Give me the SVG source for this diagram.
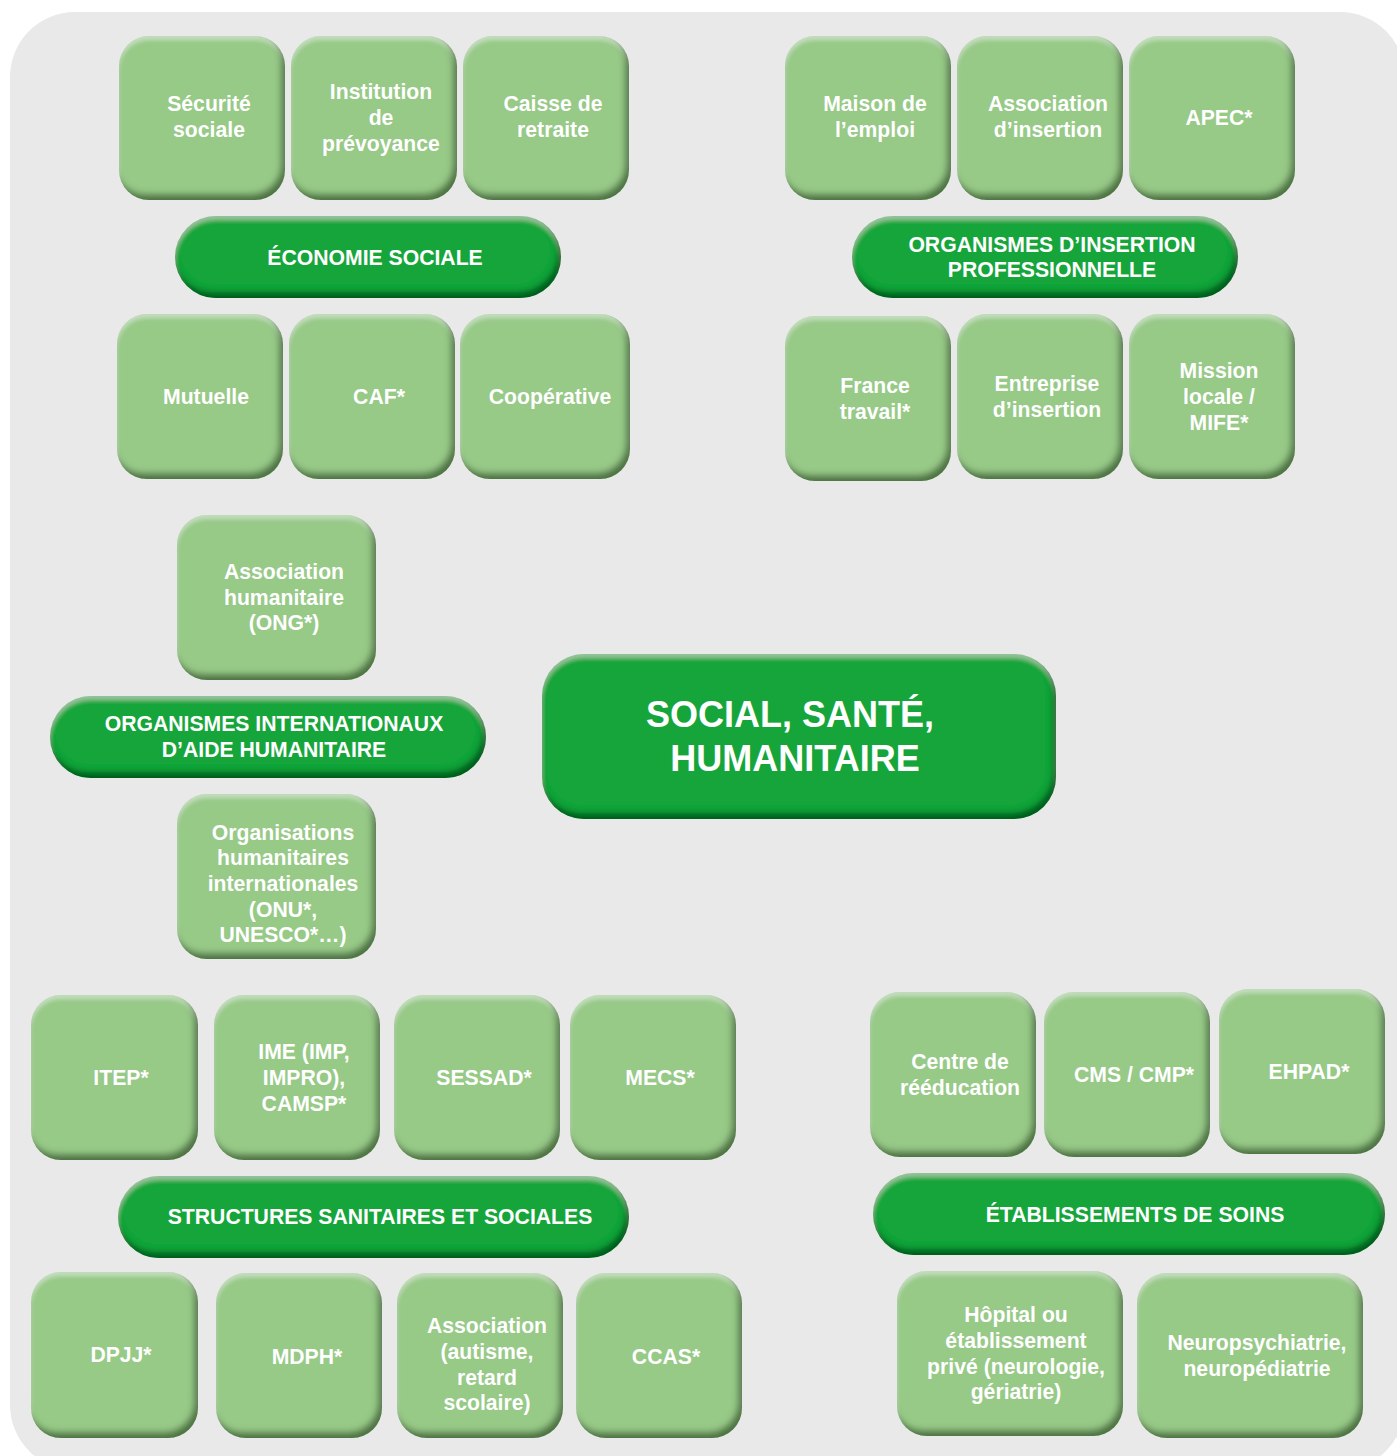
<svg xmlns="http://www.w3.org/2000/svg" width="1397" height="1456" viewBox="0 0 1397 1456">
<defs>
<style>
.box{fill:#97c987}
.hdr{fill:#16a53a}
.t{font-family:"Liberation Sans",Arial,sans-serif;font-weight:bold;font-size:21.2px;fill:#ffffff;text-anchor:middle}
.big{font-size:36px}
</style>
<filter id="bevL" x="-5%" y="-5%" width="110%" height="110%">
<feGaussianBlur in="SourceAlpha" stdDeviation="3" result="b"/>
<feOffset in="b" dx="-4" dy="-6" result="o"/>
<feComposite in="SourceAlpha" in2="o" operator="out" result="inv"/>
<feFlood flood-color="#3f6436" flood-opacity="0.9"/>
<feComposite in2="inv" operator="in" result="sh"/>
<feGaussianBlur in="SourceAlpha" stdDeviation="2" result="b2"/>
<feOffset in="b2" dx="0" dy="4" result="o2"/>
<feComposite in="SourceAlpha" in2="o2" operator="out" result="inv2"/>
<feFlood flood-color="#ffffff" flood-opacity="0.35"/>
<feComposite in2="inv2" operator="in" result="hl"/>
<feMerge><feMergeNode in="SourceGraphic"/><feMergeNode in="hl"/><feMergeNode in="sh"/></feMerge>
</filter>
<filter id="bevD" x="-5%" y="-10%" width="110%" height="120%">
<feGaussianBlur in="SourceAlpha" stdDeviation="3" result="b"/>
<feOffset in="b" dx="-3" dy="-6" result="o"/>
<feComposite in="SourceAlpha" in2="o" operator="out" result="inv"/>
<feFlood flood-color="#064d18" flood-opacity="0.9"/>
<feComposite in2="inv" operator="in" result="sh"/>
<feGaussianBlur in="SourceAlpha" stdDeviation="2" result="b2"/>
<feOffset in="b2" dx="0" dy="4" result="o2"/>
<feComposite in="SourceAlpha" in2="o2" operator="out" result="inv2"/>
<feFlood flood-color="#ffffff" flood-opacity="0.3"/>
<feComposite in2="inv2" operator="in" result="hl"/>
<feMerge><feMergeNode in="SourceGraphic"/><feMergeNode in="hl"/><feMergeNode in="sh"/></feMerge>
</filter>
</defs>
<rect x="0" y="0" width="1397" height="1456" fill="#ffffff"/>
<rect x="10" y="12" width="1395" height="1458" rx="65" fill="#e9e9e9"/>

<g id="connectors"></g>

<!-- Économie sociale -->
<g id="securite-sociale"><rect class="box" filter="url(#bevL)" x="119" y="36" width="166" height="164" rx="30"/><text class="t"><tspan x="209" y="111">Sécurité</tspan><tspan x="209" y="137">sociale</tspan></text></g>
<g id="institution-prevoyance"><rect class="box" filter="url(#bevL)" x="291" y="36" width="166" height="164" rx="30"/><text class="t"><tspan x="381" y="99">Institution</tspan><tspan x="381" y="125">de</tspan><tspan x="381" y="151">prévoyance</tspan></text></g>
<g id="caisse-retraite"><rect class="box" filter="url(#bevL)" x="463" y="36" width="166" height="164" rx="30"/><text class="t"><tspan x="553" y="111">Caisse de</tspan><tspan x="553" y="137">retraite</tspan></text></g>
<g id="economie-sociale"><rect class="hdr" filter="url(#bevD)" x="175" y="216" width="386" height="82" rx="41"/><text class="t" x="375" y="265">ÉCONOMIE SOCIALE</text></g>
<g id="mutuelle"><rect class="box" filter="url(#bevL)" x="117" y="314" width="166" height="165" rx="30"/><text class="t" x="206" y="404">Mutuelle</text></g>
<g id="caf"><rect class="box" filter="url(#bevL)" x="289" y="314" width="166" height="165" rx="30"/><text class="t" x="379" y="404">CAF*</text></g>
<g id="cooperative"><rect class="box" filter="url(#bevL)" x="460" y="314" width="170" height="165" rx="30"/><text class="t" x="550" y="404">Coopérative</text></g>

<!-- Insertion professionnelle -->
<g id="maison-emploi"><rect class="box" filter="url(#bevL)" x="785" y="36" width="166" height="164" rx="30"/><text class="t"><tspan x="875" y="111">Maison de</tspan><tspan x="875" y="137">l’emploi</tspan></text></g>
<g id="association-insertion"><rect class="box" filter="url(#bevL)" x="957" y="36" width="166" height="164" rx="30"/><text class="t"><tspan x="1048" y="111">Association</tspan><tspan x="1048" y="137">d’insertion</tspan></text></g>
<g id="apec"><rect class="box" filter="url(#bevL)" x="1129" y="36" width="166" height="164" rx="30"/><text class="t" x="1219" y="125">APEC*</text></g>
<g id="organismes-insertion"><rect class="hdr" filter="url(#bevD)" x="852" y="216" width="386" height="82" rx="41"/><text class="t"><tspan x="1052" y="252">ORGANISMES D’INSERTION</tspan><tspan x="1052" y="277">PROFESSIONNELLE</tspan></text></g>
<g id="france-travail"><rect class="box" filter="url(#bevL)" x="785" y="316" width="166" height="165" rx="30"/><text class="t"><tspan x="875" y="393">France</tspan><tspan x="875" y="419">travail*</tspan></text></g>
<g id="entreprise-insertion"><rect class="box" filter="url(#bevL)" x="957" y="314" width="166" height="165" rx="30"/><text class="t"><tspan x="1047" y="391">Entreprise</tspan><tspan x="1047" y="417">d’insertion</tspan></text></g>
<g id="mission-locale"><rect class="box" filter="url(#bevL)" x="1129" y="314" width="166" height="165" rx="30"/><text class="t"><tspan x="1219" y="378">Mission</tspan><tspan x="1219" y="404">locale /</tspan><tspan x="1219" y="430">MIFE*</tspan></text></g>

<!-- Humanitaire -->
<g id="association-humanitaire"><rect class="box" filter="url(#bevL)" x="177" y="515" width="199" height="165" rx="30"/><text class="t"><tspan x="284" y="579">Association</tspan><tspan x="284" y="605">humanitaire</tspan><tspan x="284" y="630">(ONG*)</tspan></text></g>
<g id="organismes-internationaux"><rect class="hdr" filter="url(#bevD)" x="50" y="696" width="436" height="82" rx="41"/><text class="t"><tspan x="274" y="731">ORGANISMES INTERNATIONAUX</tspan><tspan x="274" y="757">D’AIDE HUMANITAIRE</tspan></text></g>
<g id="organisations-humanitaires"><rect class="box" filter="url(#bevL)" x="177" y="794" width="199" height="165" rx="30"/><text class="t"><tspan x="283" y="840">Organisations</tspan><tspan x="283" y="865">humanitaires</tspan><tspan x="283" y="891">internationales</tspan><tspan x="283" y="917">(ONU*,</tspan><tspan x="283" y="942">UNESCO*…)</tspan></text></g>

<!-- Central -->
<g id="social-sante-humanitaire"><rect class="hdr" filter="url(#bevD)" x="542" y="654" width="514" height="165" rx="42"/><text class="t big"><tspan x="790" y="727">SOCIAL, SANTÉ,</tspan><tspan x="795" y="771">HUMANITAIRE</tspan></text></g>

<!-- Structures sanitaires et sociales -->
<g id="itep"><rect class="box" filter="url(#bevL)" x="31" y="995" width="167" height="165" rx="30"/><text class="t" x="121" y="1085">ITEP*</text></g>
<g id="ime"><rect class="box" filter="url(#bevL)" x="214" y="995" width="166" height="165" rx="30"/><text class="t"><tspan x="304" y="1059">IME (IMP,</tspan><tspan x="304" y="1085">IMPRO),</tspan><tspan x="304" y="1111">CAMSP*</tspan></text></g>
<g id="sessad"><rect class="box" filter="url(#bevL)" x="394" y="995" width="166" height="165" rx="30"/><text class="t" x="484" y="1085">SESSAD*</text></g>
<g id="mecs"><rect class="box" filter="url(#bevL)" x="570" y="995" width="166" height="165" rx="30"/><text class="t" x="660" y="1085">MECS*</text></g>
<g id="structures-sanitaires"><rect class="hdr" filter="url(#bevD)" x="118" y="1176" width="511" height="82" rx="41"/><text class="t" x="380" y="1224">STRUCTURES SANITAIRES ET SOCIALES</text></g>
<g id="dpjj"><rect class="box" filter="url(#bevL)" x="31" y="1272" width="167" height="166" rx="30"/><text class="t" x="121" y="1362">DPJJ*</text></g>
<g id="mdph"><rect class="box" filter="url(#bevL)" x="216" y="1273" width="166" height="165" rx="30"/><text class="t" x="307" y="1364">MDPH*</text></g>
<g id="association-autisme"><rect class="box" filter="url(#bevL)" x="397" y="1273" width="166" height="165" rx="30"/><text class="t"><tspan x="487" y="1333">Association</tspan><tspan x="487" y="1359">(autisme,</tspan><tspan x="487" y="1385">retard</tspan><tspan x="487" y="1410">scolaire)</tspan></text></g>
<g id="ccas"><rect class="box" filter="url(#bevL)" x="576" y="1273" width="166" height="165" rx="30"/><text class="t" x="666" y="1364">CCAS*</text></g>

<!-- Établissements de soins -->
<g id="centre-reeducation"><rect class="box" filter="url(#bevL)" x="870" y="992" width="166" height="165" rx="30"/><text class="t"><tspan x="960" y="1069">Centre de</tspan><tspan x="960" y="1095">rééducation</tspan></text></g>
<g id="cms-cmp"><rect class="box" filter="url(#bevL)" x="1044" y="992" width="166" height="165" rx="30"/><text class="t" x="1134" y="1082">CMS / CMP*</text></g>
<g id="ehpad"><rect class="box" filter="url(#bevL)" x="1219" y="989" width="166" height="165" rx="30"/><text class="t" x="1309" y="1079">EHPAD*</text></g>
<g id="etablissements-soins"><rect class="hdr" filter="url(#bevD)" x="873" y="1173" width="512" height="82" rx="41"/><text class="t" x="1135" y="1222">ÉTABLISSEMENTS DE SOINS</text></g>
<g id="hopital"><rect class="box" filter="url(#bevL)" x="897" y="1271" width="226" height="165" rx="30"/><text class="t"><tspan x="1016" y="1322">Hôpital ou</tspan><tspan x="1016" y="1348">établissement</tspan><tspan x="1016" y="1374">privé (neurologie,</tspan><tspan x="1016" y="1399">gériatrie)</tspan></text></g>
<g id="neuropsychiatrie"><rect class="box" filter="url(#bevL)" x="1137" y="1273" width="226" height="165" rx="30"/><text class="t"><tspan x="1257" y="1350">Neuropsychiatrie,</tspan><tspan x="1257" y="1376">neuropédiatrie</tspan></text></g>
</svg>
